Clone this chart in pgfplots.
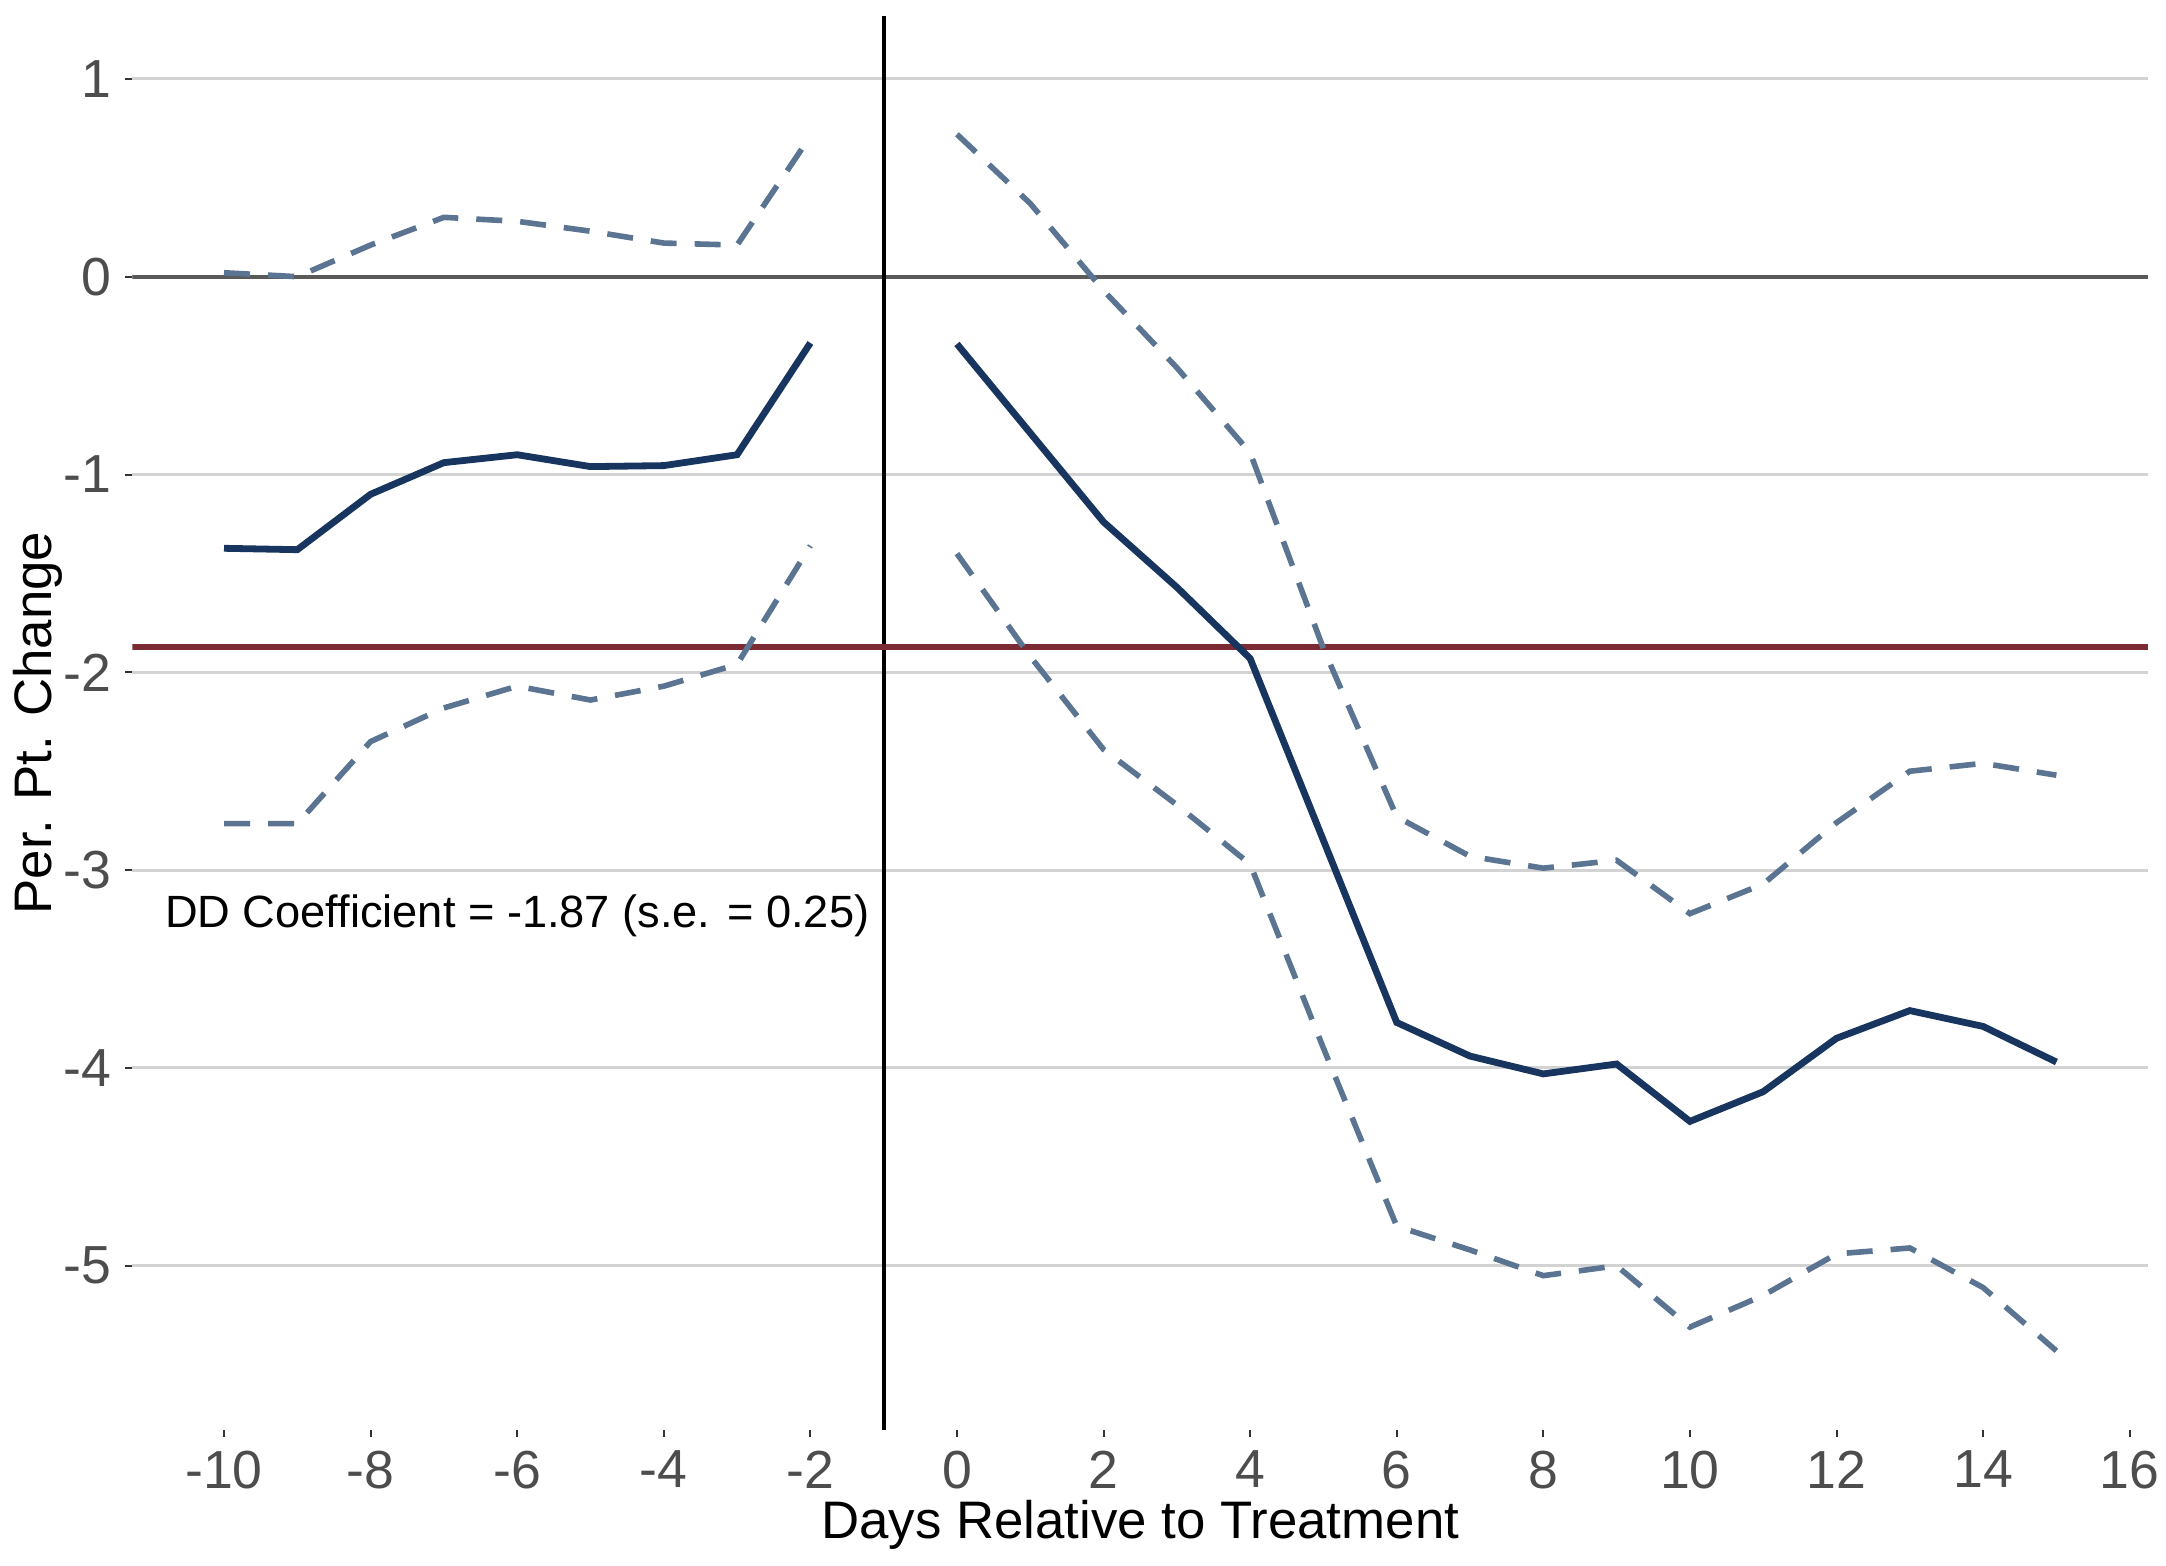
\documentclass[border=0pt]{standalone}
\usepackage{fontspec}
\setmainfont{Liberation Sans}
\usepackage{pgfplots}
\pgfplotsset{compat=1.18}
\definecolor{navy}{HTML}{17355E}
\definecolor{ci}{HTML}{5B7492}
\definecolor{maroon}{HTML}{7B2B33}
\definecolor{zeroc}{HTML}{5A5A5A}
\definecolor{gridc}{HTML}{D3D3D3}
\definecolor{tickc}{HTML}{4D4D4D}
\begin{document}
\begin{tikzpicture}
\begin{axis}[
  scale only axis, width=503.9pt, height=353.5pt,
  xmin=-11.25, xmax=16.25, ymin=-5.83, ymax=1.318,
  axis line style={draw=none},
  xtick={-10,-8,...,16},
  xticklabels={-10,-8,-6,-4,-2,0,2,4,6,8,10,12,14,16},
  ytick={-5,-4,...,1},
  yticklabels={-5,-4,-3,-2,-1,0,1},
  tick pos=left, tick align=outside, major tick length=1.75pt,
  tick style={draw=black!80, line width=0.5pt},
  ymajorgrids, grid style={gridc, line width=0.75pt},
  ticklabel style={font=\fontsize{13.4}{15}\selectfont, text=tickc},
  xlabel={Days Relative to Treatment}, ylabel={Per. Pt. Change},
  label style={font=\fontsize{13.2}{15}\selectfont},
  xlabel style={at={(axis description cs:0.5,-0.0771)}, anchor=base},
  ylabel style={at={(axis description cs:-0.040,0.5)}, anchor=base},
]
\addplot[zeroc, line width=1pt] coordinates {(-11.25,0) (16.25,0)};
\addplot[black, line width=1pt] coordinates {(-1,-5.83) (-1,1.318)};
\addplot[maroon, line width=1.5pt] coordinates {(-11.25,-1.87) (16.25,-1.87)};
% upper CI
\addplot[ci, line width=1.4pt, dash pattern=on 6.5pt off 4.5pt] coordinates {
(-10,0.02) (-9,0.00) (-8,0.16) (-7,0.30) (-6,0.28) (-5,0.23) (-4,0.17) (-3,0.16) (-2,0.71)};
\addplot[ci, line width=1.4pt, dash pattern=on 6.5pt off 4.5pt] coordinates {
(0,0.72) (1,0.37) (2,-0.07) (3,-0.46) (4,-0.89) (5,-1.88) (6,-2.73) (7,-2.93) (8,-2.99) (9,-2.95) (10,-3.22) (11,-3.07) (12,-2.76) (13,-2.50) (14,-2.46) (15,-2.52)};
% lower CI
\addplot[ci, line width=1.4pt, dash pattern=on 6.5pt off 4.5pt] coordinates {
(-10,-2.765) (-9,-2.765) (-8,-2.35) (-7,-2.18) (-6,-2.07) (-5,-2.14) (-4,-2.07) (-3,-1.96) (-2,-1.36)};
\addplot[ci, line width=1.4pt, dash pattern=on 6.5pt off 4.5pt] coordinates {
(0,-1.40) (1,-1.92) (2,-2.39) (3,-2.67) (4,-2.97) (5,-3.90) (6,-4.80) (7,-4.92) (8,-5.05) (9,-5.00) (10,-5.31) (11,-5.15) (12,-4.94) (13,-4.91) (14,-5.11) (15,-5.43)};
% estimates
\addplot[navy, line width=1.7pt] coordinates {
(-10,-1.373) (-9,-1.38) (-8,-1.10) (-7,-0.94) (-6,-0.90) (-5,-0.96) (-4,-0.955) (-3,-0.90) (-2,-0.335)};
\addplot[navy, line width=1.7pt] coordinates {
(0,-0.34) (1,-0.79) (2,-1.24) (3,-1.57) (4,-1.93) (5,-2.85) (6,-3.77) (7,-3.94) (8,-4.03) (9,-3.98) (10,-4.27) (11,-4.12) (12,-3.85) (13,-3.71) (14,-3.79) (15,-3.97)};
\node[anchor=base, font=\fontsize{11.3}{13}\selectfont] at (axis cs:-6,-3.29) {DD Coefficient = -1.87 (s.e. = 0.25)};
\end{axis}
\pgfresetboundingbox
\path[use as bounding box] ([xshift=-33.1pt,yshift=-34pt]current axis.south west) rectangle ([xshift=4.5pt,yshift=4pt]current axis.north east);
\end{tikzpicture}
\end{document}
